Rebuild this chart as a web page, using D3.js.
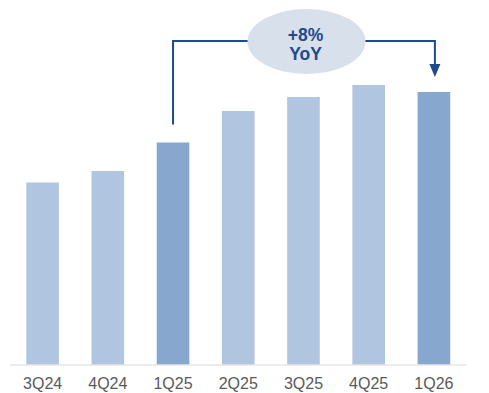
<!DOCTYPE html>
<html>
<head>
<meta charset="utf-8">
<script src="https://cdn.jsdelivr.net/npm/d3@7"></script>
<style>
  html, body { margin: 0; padding: 0; background: #ffffff; }
  svg { display: block; }
</style>
</head>
<body>
<svg id="chart" width="489" height="393"></svg>
<script>
// ---- data ----
const categories = ["3Q24", "4Q24", "1Q25", "2Q25", "3Q25", "4Q25", "1Q26"];
const values = [182, 193.5, 222, 253.5, 267.5, 279.5, 272.5];
const highlighted = ["1Q25", "1Q26"];
const annotationLines = ["+8%", "YoY"];
const annotationFrom = "1Q25";
const annotationTo = "1Q26";

// ---- layout ----
const svg = d3.select("#chart");
const baseY = 364.5;
const x = d3.scaleBand().domain(categories).range([10, 466.5]).paddingInner(0.5).paddingOuter(0.25);
const y = d3.scaleLinear().domain([0, 300]).range([baseY, baseY - 300]);

const lightColor = "#b0c5e0";
const darkColor = "#88a7cf";
const navy = "#1f4b8a";

// bars
svg.append("g").selectAll("rect")
  .data(categories)
  .join("rect")
  .attr("x", d => x(d))
  .attr("y", (d, i) => y(values[i]))
  .attr("width", x.bandwidth())
  .attr("height", (d, i) => y(0) - y(values[i]))
  .attr("fill", d => highlighted.includes(d) ? darkColor : lightColor);

// axis
const axis = svg.append("g")
  .attr("transform", `translate(0,${baseY})`)
  .call(d3.axisBottom(x).tickSize(0).tickPadding(13));
axis.attr("font-size", null).attr("font-family", null);
axis.select(".domain").attr("stroke", "#d9d9d9").attr("stroke-width", 1)
  .attr("d", `M10,0.5H466.5`);
axis.selectAll("text")
  .attr("font-family", "'Liberation Sans', Arial, sans-serif")
  .attr("font-size", 16)
  .attr("fill", "#595959");

// annotation bracket
const i0 = categories.indexOf(annotationFrom);
const i1 = categories.indexOf(annotationTo);
const xa = x(annotationFrom) + x.bandwidth() / 2;
const xb = x(annotationTo) + x.bandwidth() / 2 + 1;
const topY = 41;
const ya = y(values[i0]) - 18;
const tipY = y(values[i1]) - 15;
const ex = 306.5, ey = 41.5, erx = 59, ery = 32.5;

svg.append("path")
  .attr("d", `M${xa},${ya}V${topY}H${ex}`)
  .attr("fill", "none").attr("stroke", navy).attr("stroke-width", 2);
svg.append("path")
  .attr("d", `M${ex},${topY}H${xb}V${tipY - 12}`)
  .attr("fill", "none").attr("stroke", navy).attr("stroke-width", 2);
svg.append("path")
  .attr("d", `M${xb - 5.5},${tipY - 13}L${xb + 5.5},${tipY - 13}L${xb},${tipY}Z`)
  .attr("fill", navy);

svg.append("ellipse")
  .attr("cx", ex).attr("cy", ey).attr("rx", erx).attr("ry", ery)
  .attr("fill", "#d8e0ec");

svg.append("g").selectAll("text")
  .data(annotationLines)
  .join("text")
  .attr("x", ex - 1)
  .attr("y", (d, i) => 41 + i * 19)
  .attr("text-anchor", "middle")
  .attr("font-family", "'Liberation Sans', Arial, sans-serif")
  .attr("font-weight", "bold")
  .attr("font-size", 17.5)
  .attr("fill", navy)
  .text(d => d);
</script>
</body>
</html>
